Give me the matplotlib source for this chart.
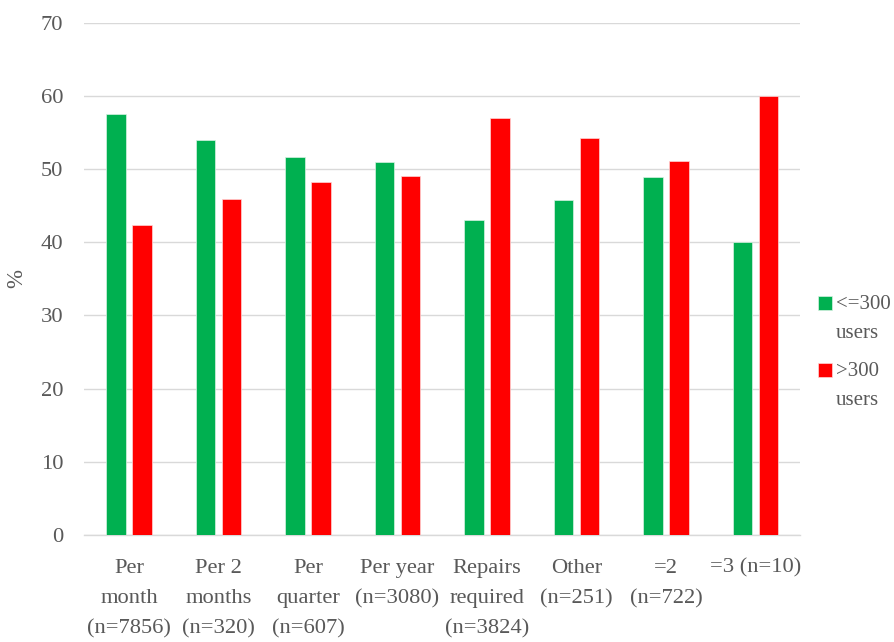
import numpy as np
import matplotlib
matplotlib.use("Agg")
import matplotlib.pyplot as plt
from matplotlib.container import BarContainer
from matplotlib.legend_handler import HandlerPatch, update_from_first_child
from matplotlib.patches import Rectangle

categories = [
    "Per\nmonth\n(n=7856)",
    "Per 2\nmonths\n(n=320)",
    "Per\nquarter\n(n=607)",
    "Per year\n(n=3080)",
    "Repairs\nrequired\n(n=3824)",
    "Other\n(n=251)",
    "=2\n(n=722)",
    "=3 (n=10)",
]
small_users = [57.5, 54.0, 51.6, 50.9, 43.0, 45.8, 48.9, 40.0]
large_users = [42.3, 45.9, 48.3, 49.1, 57.0, 54.2, 51.1, 60.0]
series_labels = ["<=300\nusers", ">300\nusers"]
yticks = [0, 10, 20, 30, 40, 50, 60, 70]

GREEN = "#00B050"
RED = "#FF0000"
TEXT = "#595959"
GRID = "#D9D9D9"

plt.rcParams["font.family"] = ["Liberation Serif", "DejaVu Serif"]

fig = plt.figure(figsize=(8.94, 6.42), dpi=100)
ax = fig.add_axes([0.0943, 0.1667, 0.8007, 0.7979])

x = np.arange(len(categories))
w = 0.218
off = 0.144
b1 = ax.bar(x - off, small_users, w, color=GREEN, edgecolor="#d8f2e2",
            linewidth=0.5, label=series_labels[0], zorder=3)
b2 = ax.bar(x + off, large_users, w, color=RED, edgecolor="#ffd6d6",
            linewidth=0.5, label=series_labels[1], zorder=3)

ax.set_xlim(-0.5, len(categories) - 0.5)
ax.set_ylim(0, 70)
ax.set_yticks(yticks)
ax.set_xticks(x)
ax.set_xticklabels(categories, linespacing=1.80)
ax.grid(axis="y", color=GRID, linewidth=1.0, zorder=0)
ax.set_axisbelow(True)
for s in ["top", "right", "left"]:
    ax.spines[s].set_visible(False)
ax.spines["bottom"].set_color(GRID)
ax.spines["bottom"].set_linewidth(1.0)
ax.tick_params(axis="both", length=0, colors=TEXT, labelsize=16.2)
ax.tick_params(axis="y", pad=15)
ax.tick_params(axis="x", pad=17)
ax.set_ylabel("%", color=TEXT, fontsize=16.5)
ax.yaxis.set_label_coords(-0.080, 0.5)


def top_square(legend, orig_handle, xdescent, ydescent, width, height, fontsize):
    # square key aligned with the first line of a two-line label
    s = 10.0
    cy = -ydescent + height / 2 + 11.5
    return Rectangle((-xdescent + width - s, cy - s / 2), s, s)


leg = fig.legend(
    handles=[b1, b2], labels=series_labels,
    loc="upper left", bbox_to_anchor=(0.914, 0.541),
    frameon=False, fontsize=15, labelcolor=TEXT,
    handlelength=0.7, handleheight=0.8, handletextpad=0.2,
    labelspacing=0.9, borderaxespad=0, borderpad=0,
    handler_map={BarContainer: HandlerPatch(patch_func=top_square,
                                            update_func=update_from_first_child)},
)
for t in leg.get_texts():
    t.set_linespacing(1.75)

fig.savefig("out.png", dpi=100)
